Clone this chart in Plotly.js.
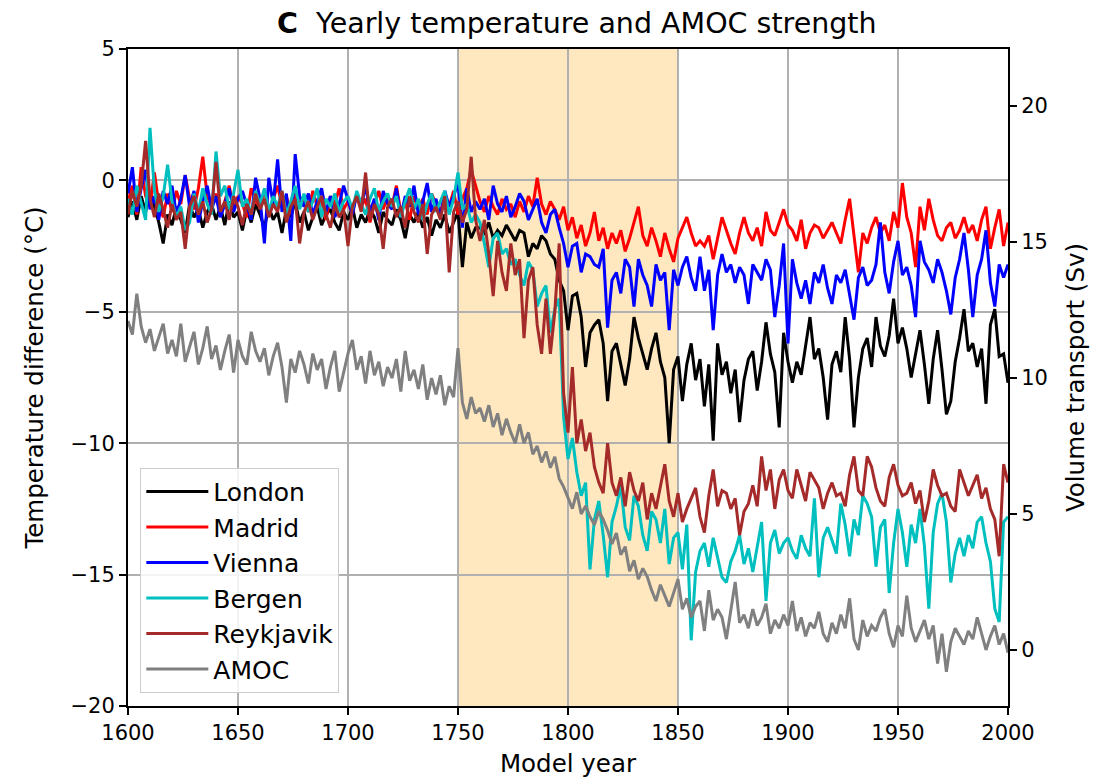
<!DOCTYPE html>
<html>
<head>
<meta charset="utf-8">
<script src="https://cdn.plot.ly/plotly-3.0.1.min.js"></script>
<style>html,body{margin:0;padding:0;background:#fff;}#chart{width:1105px;height:781px;}</style>
</head>
<body>
<div id="chart"></div>
<script>
// Model years, sampled every 2 years from 1600 to 2000
const startYear = 1600, yearStep = 2, nPoints = 201;
const years = [];
for (let i = 0; i < nPoints; i++) years.push(startYear + i * yearStep);

// Temperature difference (°C)
const london = [
-1.4,-0.8,-1.5,-0.6,-1.2,-0.4,-1.0,-1.6,-2.4,-1.3,
-1.7,-1.0,-1.5,-2.0,-0.9,-1.4,-1.1,-1.8,-1.2,-0.9,
-1.5,-1.0,-1.7,-0.8,-1.4,-1.2,-1.9,-1.1,-1.6,-0.9,
-1.3,-1.8,-1.0,-1.5,-1.2,-2.0,-1.1,-1.4,-0.8,-1.6,
-1.2,-1.9,-1.4,-1.0,-1.7,-1.3,-1.1,-1.6,-1.9,-1.2,
-1.5,-1.0,-1.8,-1.3,-1.6,-1.1,-1.4,-2.0,-1.2,-1.5,
-1.7,-1.1,-1.5,-2.2,-1.3,-1.6,-1.2,-1.8,-1.4,-2.1,
-1.5,-1.8,-1.3,-2.0,-1.6,-1.2,-3.3,-1.6,-2.2,-1.8,
-1.8,-2.0,-1.6,-2.2,-1.9,-2.1,-1.7,-2.0,-2.3,-1.9,
-2.0,-2.9,-2.4,-2.6,-2.1,-2.3,-2.8,-3.0,-3.8,-4.2,
-5.7,-4.4,-4.3,-5.2,-7.1,-5.8,-5.5,-5.3,-6.2,-8.4,
-6.5,-6.2,-7.0,-7.8,-6.8,-5.2,-6.0,-6.6,-7.2,-6.4,
-5.8,-6.9,-7.5,-10.0,-7.2,-6.7,-8.4,-7.0,-6.2,-7.6,
-6.8,-8.6,-7.0,-9.9,-6.2,-7.4,-6.9,-8.1,-7.2,-9.2,
-7.6,-6.8,-6.5,-8.0,-6.9,-5.4,-6.6,-7.3,-9.4,-5.8,
-6.9,-7.7,-6.9,-7.4,-6.3,-5.2,-6.8,-6.4,-7.5,-9.1,
-7.0,-6.5,-7.3,-5.2,-6.8,-9.4,-7.5,-6.4,-6.0,-7.1,
-5.2,-6.3,-6.7,-5.9,-4.5,-6.2,-5.6,-6.4,-7.5,-6.6,
-5.7,-7.0,-8.5,-6.8,-5.7,-7.2,-8.9,-8.4,-6.9,-6.0,
-4.9,-6.5,-6.2,-7.1,-6.4,-8.5,-5.5,-4.9,-6.7,-6.6,
-7.7];

const madrid = [
-0.8,-0.2,-1.3,0.5,-0.6,-1.0,0.3,-0.9,-1.4,-0.5,
-1.2,-0.4,-0.9,0.2,-0.7,-1.1,-0.3,0.9,-0.6,-1.0,
-0.5,-1.3,-0.8,-0.2,-1.1,-0.6,-0.9,-1.4,-0.3,-0.8,
-1.0,-0.4,-1.2,-0.7,-0.2,-1.0,-0.6,-1.3,-0.5,-0.9,
-0.7,-1.2,-0.4,-1.0,-0.8,-1.5,-0.6,-0.9,-0.3,-1.1,
-0.8,-1.3,-0.5,-1.0,-0.7,-1.6,-0.9,-0.4,-1.1,-0.6,
-1.0,-0.2,-1.2,-0.8,-1.5,-0.6,-1.1,-0.7,-1.3,-0.5,
-0.9,-1.2,-0.6,-1.0,-0.4,-1.3,-0.7,-0.3,0.4,-0.2,
-0.8,-1.2,-0.6,-1.0,-1.3,-0.7,-1.1,-0.9,-1.4,-0.8,
-1.2,-0.6,-1.0,0.1,-0.9,-1.3,-0.8,-1.1,-1.5,-1.0,
-1.9,-1.4,-2.2,-1.7,-2.5,-2.0,-1.2,-2.3,-1.8,-2.6,
-2.0,-2.4,-1.9,-2.7,-2.2,-1.6,-1.0,-2.1,-2.5,-1.8,
-2.3,-2.9,-2.0,-2.6,-3.1,-2.2,-1.8,-1.4,-2.0,-2.5,
-2.3,-2.5,-2.1,-3.0,-2.2,-1.4,-1.9,-2.4,-2.8,-2.0,
-1.4,-2.0,-2.3,-1.8,-2.5,-1.2,-1.9,-2.1,-1.6,-1.1,
-1.7,-1.9,-2.3,-1.5,-2.6,-2.0,-1.7,-1.8,-2.2,-1.9,
-1.6,-2.0,-2.4,-1.5,-0.7,-2.1,-3.5,-2.0,-2.4,-1.8,
-1.4,-2.0,-1.7,-2.3,-1.2,-1.8,-0.1,-1.4,-2.0,-3.3,
-1.0,-1.9,-0.7,-1.5,-2.1,-2.3,-1.8,-1.6,-2.2,-1.9,
-1.4,-2.0,-1.7,-2.3,-1.5,-1.0,-2.6,-1.8,-1.1,-2.5,
-1.6];

const vienna = [
-0.5,0.5,-1.2,-0.3,0.4,-1.1,-0.6,-1.5,-0.4,-0.9,
-0.2,-1.3,-0.7,0.2,-1.0,-0.4,-1.6,-0.8,-0.2,-1.1,
-0.6,-1.4,-0.9,-0.3,-1.2,-0.7,-0.4,-1.0,-1.5,0.1,
-0.7,-2.4,0.1,-0.9,0.8,-1.2,-0.5,-2.3,1.0,-0.6,
-1.0,-0.5,-1.3,-0.8,-0.3,-1.2,-0.6,-1.4,-0.9,-0.2,
-0.8,-1.3,-0.5,-1.0,-0.2,-1.2,-0.7,-1.5,-0.4,-0.9,
-1.1,-0.3,-1.4,-0.6,-1.0,-0.2,-1.3,-0.8,-0.1,-1.2,
-0.7,-1.4,-0.4,-1.0,-0.6,-0.1,-1.8,-0.3,-1.2,-0.8,
-1.1,-0.7,-1.5,-0.2,-0.9,-1.2,-0.6,-1.4,-1.0,-0.5,
-0.8,-1.5,-1.1,-0.7,-1.6,-2.0,-1.3,-1.1,-1.8,-2.4,
-3.3,-2.5,-2.4,-3.5,-2.8,-2.9,-3.2,-3.3,-2.6,-5.6,
-3.8,-3.5,-4.3,-3.0,-3.3,-4.8,-3.0,-3.6,-4.0,-4.8,
-3.2,-3.8,-3.5,-5.7,-3.4,-4.0,-3.3,-2.9,-3.7,-4.2,
-2.9,-4.2,-3.4,-5.7,-3.6,-2.8,-3.5,-3.2,-3.9,-3.3,
-3.6,-4.7,-3.2,-3.5,-3.8,-3.0,-3.4,-5.2,-4.0,-2.4,
-6.2,-3.0,-3.9,-4.5,-3.8,-4.7,-3.5,-3.9,-3.2,-4.1,
-4.7,-3.6,-3.9,-3.4,-4.4,-5.3,-3.7,-3.3,-4.0,-3.8,
-3.2,-1.6,-3.5,-4.3,-3.1,-2.3,-3.6,-3.3,-4.0,-5.2,
-2.3,-3.1,-3.4,-3.9,-3.0,-3.5,-4.2,-5.1,-3.7,-3.0,
-2.0,-3.4,-5.2,-3.6,-3.0,-1.9,-3.9,-4.8,-3.2,-3.7,
-3.2];

const bergen = [
-0.7,-1.3,-0.2,-0.9,-1.5,2.0,-0.4,-1.2,-0.6,0.6,
-0.8,-1.4,-1.0,-1.9,-1.6,-0.5,-1.2,-0.3,-0.9,-1.3,
1.1,-0.6,-0.2,-1.1,-0.5,0.4,-1.0,-0.7,-1.3,-0.4,
-0.9,-0.3,-1.2,-0.6,-1.0,-0.4,-1.3,-0.8,-0.2,-1.1,
-0.5,-1.2,-0.8,-0.3,-1.4,-0.7,-1.0,-0.5,-1.2,-0.8,
-0.6,-1.1,-0.4,-0.9,-1.3,-0.7,-0.3,-1.2,-0.8,-0.5,
-1.0,-0.6,-1.4,-0.8,-0.3,-1.1,-0.7,-1.5,-0.9,-0.5,
-1.2,-0.8,-0.4,-1.3,-0.7,0.3,-1.1,-0.9,-1.6,-1.3,
-1.6,-2.4,-3.3,-2.2,-2.0,-2.8,-2.6,-3.2,-3.0,-3.6,
-4.0,-3.1,-3.4,-4.8,-4.3,-4.0,-5.8,-4.9,-4.5,-9.0,
-10.6,-9.8,-11.1,-12.0,-11.5,-14.8,-12.9,-12.2,-13.5,-15.1,
-13.0,-12.4,-11.6,-13.2,-13.7,-12.0,-12.4,-13.5,-14.1,-12.6,
-12.9,-13.8,-12.5,-14.6,-13.6,-13.4,-14.8,-13.1,-17.5,-14.9,
-14.1,-13.8,-14.7,-13.6,-14.4,-15.1,-15.3,-14.5,-14.1,-13.5,
-14.6,-14.0,-14.9,-13.9,-13.0,-16.0,-13.8,-13.3,-14.2,-13.8,
-13.6,-14.1,-14.4,-13.5,-14.0,-14.3,-12.1,-15.1,-13.6,-13.2,
-13.7,-14.2,-12.3,-13.1,-14.3,-12.9,-13.5,-12.0,-12.3,-12.8,
-14.7,-13.2,-12.9,-15.7,-13.8,-12.5,-13.4,-14.7,-13.1,-13.8,
-12.5,-13.9,-16.3,-13.4,-12.3,-11.9,-13.0,-15.3,-14.2,-13.6,
-14.3,-13.5,-14.0,-13.0,-12.8,-13.8,-14.5,-16.3,-16.8,-13.0,
-12.8];

const reykjavik = [
-1.3,-0.4,-1.0,-0.2,1.5,-0.7,-1.4,-0.5,-1.1,-1.8,
-0.9,-1.5,-1.2,-2.6,-1.0,-0.6,-1.3,-0.8,-1.6,-1.1,
0.7,-1.2,-0.8,-1.5,-0.6,-1.0,-1.7,-0.9,-1.3,-0.5,
-1.1,-0.7,-1.4,-0.9,-1.2,-0.4,-1.6,-1.0,-0.7,-2.4,
-1.2,-0.8,-1.5,-1.0,-0.6,-1.3,-1.8,-0.9,-1.4,-1.1,
-2.5,-1.0,-0.6,-1.2,0.3,-1.5,-0.9,-1.3,-2.6,-1.0,
-0.7,-1.4,-1.0,-1.8,-0.6,-1.2,-1.6,-0.9,-2.8,-1.3,
-1.0,-1.5,-0.6,-3.5,-1.2,-0.8,-1.6,-1.1,0.9,-1.5,
-2.3,-1.5,-2.8,-4.4,-2.3,-3.5,-4.2,-2.4,-3.6,-3.0,
-6.0,-3.8,-3.3,-5.5,-6.6,-4.5,-6.6,-5.0,-2.4,-8.1,
-9.6,-7.1,-10.0,-9.1,-10.3,-9.6,-10.9,-11.5,-11.9,-10.0,
-11.5,-12.0,-11.3,-12.4,-11.1,-11.8,-12.2,-11.5,-12.9,-11.9,
-12.5,-11.6,-10.8,-12.2,-12.8,-11.9,-13.0,-12.5,-12.1,-11.7,
-12.8,-13.4,-12.0,-11.0,-12.4,-11.8,-11.9,-12.5,-12.1,-13.5,
-12.6,-12.3,-11.6,-12.4,-10.5,-11.8,-11.0,-12.5,-11.4,-11.0,
-11.8,-12.1,-11.0,-11.6,-12.2,-11.1,-11.4,-11.7,-12.5,-11.9,
-11.5,-12.0,-11.9,-12.4,-11.2,-10.5,-11.8,-12.0,-10.5,-10.9,
-11.7,-12.2,-12.4,-11.3,-10.8,-11.6,-12.0,-11.9,-11.5,-12.3,
-11.8,-13.0,-12.2,-11.0,-11.6,-12.0,-11.9,-12.4,-12.6,-11.0,
-11.5,-12.0,-11.6,-11.2,-12.1,-11.7,-12.5,-12.9,-14.3,-10.8,
-11.5];

// AMOC volume transport (Sv)
const amoc = [
12.1,11.6,13.1,11.9,11.3,11.8,11.0,11.5,12.0,10.9,
11.4,10.8,12.0,10.6,11.2,11.7,10.5,11.1,11.9,10.7,
11.2,10.3,11.0,11.6,10.2,11.4,10.8,10.5,11.7,11.0,
10.6,11.1,10.1,10.8,11.3,10.4,9.1,10.7,10.2,11.0,
10.5,9.8,10.9,10.3,10.7,9.6,10.4,11.0,9.5,10.2,
10.9,11.4,10.3,10.8,9.8,11.0,10.1,10.6,9.7,10.4,
10.0,10.7,9.5,11.0,9.9,10.3,9.6,10.5,9.2,10.0,
9.4,10.1,9.0,9.7,9.3,11.1,9.1,8.5,9.3,8.7,
8.9,8.4,9.0,8.2,8.7,7.9,8.5,8.0,7.6,8.3,
7.6,8.0,7.2,7.5,6.9,7.3,6.7,7.1,6.3,6.0,
5.6,5.2,5.8,5.0,5.3,4.9,4.6,5.1,4.8,4.4,
3.9,4.3,3.5,3.8,2.9,3.3,2.6,3.0,2.7,2.2,
1.8,2.4,2.0,1.6,2.1,2.6,1.5,1.9,1.2,1.6,
1.8,0.7,2.2,1.1,1.5,1.2,0.4,1.4,2.5,1.0,
1.3,0.8,1.5,0.9,1.2,1.7,0.6,1.1,0.8,1.3,
0.9,1.8,0.7,1.2,0.5,1.0,0.8,1.4,0.6,0.3,
1.0,0.6,1.3,0.8,1.9,0.4,0.0,1.1,0.5,0.9,
0.7,1.2,1.5,0.6,0.1,0.9,0.5,2.0,0.8,0.3,
0.7,1.1,0.4,0.9,-0.5,0.6,-0.8,0.3,0.8,0.5,
0.2,0.7,0.4,1.2,0.6,0.0,0.5,0.9,0.2,0.6,
-0.1];

const seriesNames = ["London", "Madrid", "Vienna", "Bergen", "Reykjavik", "AMOC"];
const seriesColors = ["#000000", "#ff0000", "#0000ff", "#00bfbf", "#a52a2a", "#808080"];
const tempSeries = [london, madrid, vienna, bergen, reykjavik];
const xTicks = [1600, 1650, 1700, 1750, 1800, 1850, 1900, 1950, 2000];
const yTicks = [5, 0, -5, -10, -15, -20];
const y2Ticks = [0, 5, 10, 15, 20];
const spanStart = 1750, spanEnd = 1850;

const FONT = "DejaVu Sans, Liberation Sans, sans-serif";
const LW = 3;
const traces = [];
tempSeries.forEach((vals, i) => {
  traces.push({
    x: years, y: vals, type: "scatter", mode: "lines", name: seriesNames[i],
    line: {color: seriesColors[i], width: LW}, yaxis: "y"
  });
});
traces.push({
  x: years, y: amoc, type: "scatter", mode: "lines", name: seriesNames[5],
  line: {color: seriesColors[5], width: LW}, yaxis: "y2"
});

const axisCommon = {
  showline: true, linecolor: "#000", linewidth: 2,
  ticks: "outside", ticklen: 7, tickwidth: 2, tickcolor: "#000",
  tickfont: {family: FONT, size: 21, color: "#000"},
  zeroline: false
};

const layout = {
  width: 1105, height: 781,
  margin: {l: 128, r: 97, t: 49, b: 75},
  paper_bgcolor: "#fff", plot_bgcolor: "#fff",
  showlegend: true,
  title: {
    text: "<b>C</b>  Yearly temperature and AMOC strength",
    font: {family: FONT, size: 28.5, color: "#000"},
    x: 0.51, xref: "paper", xanchor: "center",
    y: 0.970, yref: "container", yanchor: "middle"
  },
  xaxis: Object.assign({}, axisCommon, {
    range: [1600, 2000], tickvals: xTicks, ticktext: xTicks.map(String),
    showgrid: true, gridcolor: "#b0b0b0", gridwidth: 2,
    mirror: true,
    title: {text: "Model year", font: {family: FONT, size: 24.5, color: "#000"}, standoff: 11}
  }),
  yaxis: Object.assign({}, axisCommon, {
    range: [-20, 5], tickvals: yTicks, ticktext: yTicks.map(v => v < 0 ? "\u2212" + Math.abs(v) : String(v)),
    showgrid: true, gridcolor: "#b0b0b0", gridwidth: 2,
    title: {text: "Temperature difference (°C)", font: {family: FONT, size: 24.5, color: "#000"}, standoff: 20}
  }),
  yaxis2: Object.assign({}, axisCommon, {
    overlaying: "y", side: "right", anchor: "x",
    range: [-2.06, 22.1], tickvals: y2Ticks, ticktext: y2Ticks.map(String),
    showgrid: false,
    title: {text: "Volume transport (Sv)", font: {family: FONT, size: 24.5, color: "#000"}, standoff: 20}
  }),
  shapes: [{
    type: "rect", xref: "x", yref: "paper", x0: spanStart, x1: spanEnd, y0: 0, y1: 1,
    fillcolor: "rgba(255,165,0,0.25)", line: {width: 0}, layer: "below"
  }],
  legend: {
    x: 0.014, y: 0.02, xanchor: "left", yanchor: "bottom",
    bgcolor: "rgba(255,255,255,0.85)", bordercolor: "#cccccc", borderwidth: 1,
    font: {family: FONT, size: 25, color: "#000"},
    itemwidth: 62,
    traceorder: "normal"
  }
};

Plotly.newPlot("chart", traces, layout, {displayModeBar: false, responsive: false});
</script>
</body>
</html>
